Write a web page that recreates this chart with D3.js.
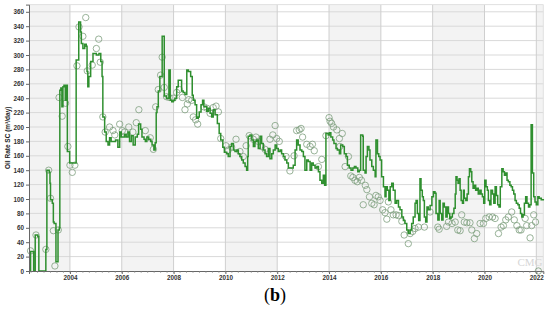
<!DOCTYPE html>
<html><head><meta charset="utf-8">
<script src="https://cdn.jsdelivr.net/npm/d3@7"></script>
<style>body{margin:0;background:#fff}</style>
</head><body><svg id="c" width="550" height="310"></svg>
<script>
// simulated oil rate (step line)
const simYears = [2002.42,2002.48,2002.60,2002.66,2002.76,2002.80,2003.07,2003.11,2003.20,2003.23,2003.25,2003.32,2003.36,2003.39,2003.46,2003.54,2003.59,2003.61,2003.65,2003.69,2003.73,2003.77,2003.82,2003.86,2003.90,2003.99,2004.24,2004.34,2004.41,2004.44,2004.50,2004.57,2004.63,2004.66,2004.69,2004.73,2004.80,2004.89,2005.02,2005.12,2005.19,2005.24,2005.27,2005.34,2005.40,2005.47,2005.53,2005.59,2005.66,2005.76,2005.85,2005.92,2005.98,2006.11,2006.17,2006.24,2006.30,2006.37,2006.44,2006.52,2006.60,2006.65,2006.73,2006.78,2006.86,2006.91,2006.97,2007.04,2007.12,2007.17,2007.24,2007.29,2007.33,2007.36,2007.41,2007.47,2007.56,2007.64,2007.73,2007.82,2007.87,2007.93,2007.99,2008.05,2008.12,2008.18,2008.25,2008.31,2008.37,2008.44,2008.51,2008.57,2008.66,2008.72,2008.76,2008.83,2008.89,2008.95,2008.99,2009.06,2009.12,2009.17,2009.21,2009.28,2009.34,2009.41,2009.47,2009.53,2009.60,2009.69,2009.76,2009.82,2009.90,2009.96,2010.05,2010.11,2010.18,2010.24,2010.31,2010.37,2010.44,2010.50,2010.56,2010.63,2010.69,2010.76,2010.82,2010.86,2010.88,2010.95,2011.02,2011.08,2011.14,2011.21,2011.27,2011.34,2011.40,2011.46,2011.53,2011.59,2011.66,2011.72,2011.79,2011.85,2011.92,2011.98,2012.04,2012.11,2012.17,2012.24,2012.30,2012.37,2012.43,2012.49,2012.62,2012.69,2012.75,2012.81,2012.88,2012.95,2013.01,2013.07,2013.14,2013.20,2013.27,2013.33,2013.39,2013.46,2013.53,2013.59,2013.65,2013.72,2013.78,2013.83,2013.88,2013.97,2014.01,2014.07,2014.14,2014.19,2014.27,2014.32,2014.40,2014.45,2014.53,2014.59,2014.66,2014.71,2014.78,2014.85,2014.92,2014.98,2015.04,2015.11,2015.17,2015.22,2015.30,2015.32,2015.39,2015.43,2015.48,2015.54,2015.58,2015.65,2015.71,2015.78,2015.81,2015.87,2015.92,2015.97,2016.03,2016.10,2016.16,2016.20,2016.25,2016.31,2016.36,2016.42,2016.48,2016.55,2016.61,2016.68,2016.74,2016.81,2016.87,2016.93,2017.00,2017.06,2017.13,2017.19,2017.25,2017.32,2017.36,2017.41,2017.46,2017.51,2017.55,2017.60,2017.64,2017.68,2017.73,2017.78,2017.83,2017.90,2017.97,2018.03,2018.09,2018.13,2018.20,2018.25,2018.29,2018.35,2018.40,2018.45,2018.51,2018.56,2018.61,2018.66,2018.71,2018.76,2018.82,2018.87,2018.90,2018.94,2018.98,2019.02,2019.06,2019.10,2019.15,2019.19,2019.22,2019.28,2019.33,2019.38,2019.42,2019.47,2019.51,2019.56,2019.61,2019.66,2019.71,2019.76,2019.82,2019.87,2019.92,2019.97,2020.01,2020.06,2020.11,2020.15,2020.20,2020.25,2020.31,2020.36,2020.41,2020.46,2020.51,2020.56,2020.61,2020.67,2020.72,2020.77,2020.82,2020.87,2020.92,2020.98,2021.03,2021.08,2021.13,2021.18,2021.23,2021.29,2021.34,2021.39,2021.44,2021.49,2021.54,2021.59,2021.64,2021.70,2021.75,2021.80,2021.85,2021.90,2021.95,2022.00,2022.06,2022.11,2022.19,2022.27];
const simValues = [0,27,0,50,48,0,30,140,137,122,99,94,68,66,13,57,60,251,254,228,256,258,237,258,166,150,293,346,332,316,309,315,312,277,256,270,291,302,300,302,291,270,214,193,180,175,185,180,180,182,172,193,186,190,186,193,180,188,175,186,190,204,197,186,183,180,186,183,180,175,168,178,220,228,250,270,326,243,240,279,237,235,237,240,256,265,265,250,248,245,279,277,270,244,237,231,212,214,221,231,237,228,228,222,226,219,214,224,217,205,191,182,172,165,163,159,173,177,168,166,168,163,159,154,150,145,140,159,187,189,182,173,180,182,170,187,177,168,163,159,170,156,163,168,175,170,166,168,163,159,154,150,143,143,147,168,182,175,168,166,159,140,154,152,140,150,147,143,145,138,126,122,133,119,191,189,192,186,182,177,170,168,163,175,173,163,159,147,143,140,143,145,143,138,140,189,187,140,136,159,173,168,154,145,140,131,182,163,159,154,131,117,103,117,112,98,117,122,112,94,98,89,85,75,70,66,57,52,57,66,75,94,98,80,70,128,112,103,98,75,68,89,85,91,103,110,108,80,71,98,80,71,94,89,75,89,80,73,75,80,87,107,131,126,122,128,112,98,94,112,101,98,107,131,142,138,124,115,119,112,115,107,112,107,103,94,126,117,112,98,92,112,107,94,117,105,92,89,117,142,138,133,136,126,124,119,117,112,107,98,94,92,87,80,75,78,94,103,94,89,92,203,136,103,96,92,103,101,99,98];
// observed oil rate (circles)
const obsYears = [2002.48,2002.69,2003.07,2003.18,2003.25,2003.36,2003.42,2003.55,2003.58,2003.70,2003.83,2003.92,2004.00,2004.09,2004.19,2004.27,2004.35,2004.50,2004.61,2004.67,2004.86,2005.02,2005.11,2005.17,2005.27,2005.36,2005.53,2005.66,2005.73,2005.92,2006.02,2006.11,2006.27,2006.43,2006.56,2006.66,2006.91,2007.10,2007.22,2007.31,2007.41,2007.50,2007.56,2007.64,2007.73,2007.83,2007.99,2008.12,2008.22,2008.34,2008.44,2008.53,2008.59,2008.70,2008.76,2008.85,2008.93,2009.17,2009.29,2009.41,2009.53,2009.64,2009.73,2009.82,2010.02,2010.11,2010.24,2010.41,2010.56,2010.69,2010.80,2010.92,2011.08,2011.18,2011.27,2011.40,2011.53,2011.72,2011.83,2011.92,2011.98,2012.08,2012.34,2012.49,2012.65,2012.75,2012.85,2012.92,2012.98,2013.14,2013.27,2013.36,2013.43,2013.59,2013.72,2013.88,2014.00,2014.04,2014.10,2014.17,2014.30,2014.40,2014.42,2014.51,2014.62,2014.75,2014.84,2014.92,2015.00,2015.09,2015.17,2015.25,2015.32,2015.40,2015.46,2015.56,2015.65,2015.74,2015.81,2015.90,2015.97,2016.07,2016.16,2016.23,2016.29,2016.39,2016.48,2016.59,2016.68,2016.81,2016.90,2017.06,2017.13,2017.23,2017.32,2017.45,2017.68,2017.90,2018.20,2018.25,2018.54,2018.61,2018.75,2018.87,2018.97,2019.06,2019.12,2019.22,2019.32,2019.44,2019.51,2019.61,2019.70,2019.83,2019.96,2020.05,2020.18,2020.31,2020.41,2020.54,2020.64,2020.73,2020.82,2020.92,2021.05,2021.15,2021.25,2021.34,2021.41,2021.57,2021.63,2021.76,2021.82,2021.90,2021.97,2022.08];
const obsValues = [28,50,30,140,101,56,7,57,241,215,233,173,147,137,147,285,339,326,352,278,286,309,322,290,214,193,200,195,189,204,195,193,200,193,206,224,195,185,169,228,252,272,297,255,242,241,240,248,252,241,224,232,238,237,214,210,204,228,226,219,227,229,221,184,174,168,172,183,166,159,174,188,183,186,180,173,169,183,189,202,184,180,159,139,160,195,196,198,186,176,173,176,167,145,155,188,213,208,205,200,196,184,173,191,145,159,132,130,126,124,130,126,92,119,113,103,94,92,105,103,98,85,81,72,96,85,78,78,77,69,50,38,52,55,59,61,61,82,61,58,62,68,66,68,57,56,78,68,67,67,57,45,52,66,66,73,75,75,73,52,61,63,71,75,82,71,63,57,57,73,63,46,63,78,68,0];
const yTickValues = [0,20,40,60,80,100,120,140,160,180,200,220,240,260,280,300,320,340,360];
const xTickYears = [2004,2006,2008,2010,2012,2014,2016,2018,2020,2022];
const shadedBands = [[2002.42,2004],[2006,2008],[2010,2012],[2014,2016],[2018,2020],[2022,2022.27]];

const svg = d3.select("#c");
const pLeft = 29, pRight = 543.3, pTop = 4.6, pBottom = 271;
const x = d3.scaleLinear().domain([2002.42, 2022.27]).range([pLeft, pRight]);
const y = d3.scaleLinear().domain([0, 370]).range([pBottom, pTop]);

// shaded bands
svg.append("g").selectAll("rect").data(shadedBands).join("rect")
  .attr("x", d => x(d[0])).attr("width", d => x(d[1]) - x(d[0]))
  .attr("y", pTop).attr("height", pBottom - pTop).attr("fill", "#f3f3f3");

// grid
svg.append("g").selectAll("line").data(yTickValues.slice(1)).join("line")
  .attr("x1", pLeft).attr("x2", pRight).attr("y1", d => y(d)).attr("y2", d => y(d))
  .attr("stroke", "#d9d9d9").attr("stroke-width", 1);
svg.append("g").selectAll("line").data(xTickYears).join("line")
  .attr("x1", d => x(d)).attr("x2", d => x(d)).attr("y1", pTop).attr("y2", pBottom)
  .attr("stroke", "#cfcfcf").attr("stroke-width", 1);
svg.append("line").attr("x1", pLeft).attr("x2", pRight).attr("y1", pTop).attr("y2", pTop)
  .attr("stroke", "#e0e0e0");
svg.append("line").attr("x1", pRight).attr("x2", pRight).attr("y1", pTop).attr("y2", pBottom)
  .attr("stroke", "#e0e0e0");

// watermark
svg.append("text").attr("x", 530).attr("y", 266).attr("text-anchor", "middle")
  .attr("font-family", "Liberation Serif, serif").attr("font-size", 11)
  .attr("fill", "#d6d6d6").text("CMG");

// observed circles
svg.append("g").selectAll("circle").data(obsYears.map((t, i) => [t, obsValues[i]])).join("circle")
  .attr("cx", d => x(d[0])).attr("cy", d => y(d[1])).attr("r", 3.2)
  .attr("fill", "none").attr("stroke", "#7f9f7f").attr("stroke-width", 0.8);

// simulated line
const line = d3.line().x(d => x(d[0])).y(d => y(d[1])).curve(d3.curveStepAfter);
svg.append("path").datum(simYears.map((t, i) => [t, simValues[i]]))
  .attr("d", line).attr("fill", "none").attr("stroke", "#2f8f2f").attr("stroke-width", 1.5);

// axes
const yAxis = d3.axisLeft(y).tickValues(yTickValues).tickSize(3).tickPadding(2);
const gy = svg.append("g").attr("transform", `translate(${pLeft},0)`).call(yAxis);
const xAxis = d3.axisBottom(x).tickValues(xTickYears).tickFormat(d3.format("d")).tickSize(3).tickPadding(2);
const gx = svg.append("g").attr("transform", `translate(0,${pBottom})`).call(xAxis);
const minor = d3.range(2002.5, 2022.26, 0.25);
svg.append("g").selectAll("line").data(minor).join("line")
  .attr("x1", d => x(d)).attr("x2", d => x(d)).attr("y1", pBottom).attr("y2", pBottom + 2)
  .attr("stroke", "#888").attr("stroke-width", 0.6);
[gy, gx].forEach(g => {
  g.selectAll("path").attr("stroke", "#666");
  g.selectAll("line").attr("stroke", "#666");
  g.selectAll("text").attr("font-family", "Liberation Sans, Arial, sans-serif")
    .attr("font-size", 6.3).attr("font-weight", "bold").attr("fill", "#333");
});

// y label
svg.append("text").attr("transform", `translate(10,${(pTop + pBottom) / 2}) rotate(-90)`)
  .attr("text-anchor", "middle").attr("font-family", "Liberation Sans, Arial, sans-serif")
  .attr("font-size", 6.5).attr("font-weight", "bold").attr("fill", "#222")
  .text("Oil Rate SC (m³/day)");

// caption
const cap = svg.append("text").attr("x", 275).attr("y", 301).attr("text-anchor", "middle")
  .attr("font-family", "Liberation Serif, Times New Roman, serif").attr("font-size", 18).attr("fill", "#000");
cap.append("tspan").text("(");
cap.append("tspan").attr("font-weight", "bold").text("b");
cap.append("tspan").text(")");
</script></body></html>
